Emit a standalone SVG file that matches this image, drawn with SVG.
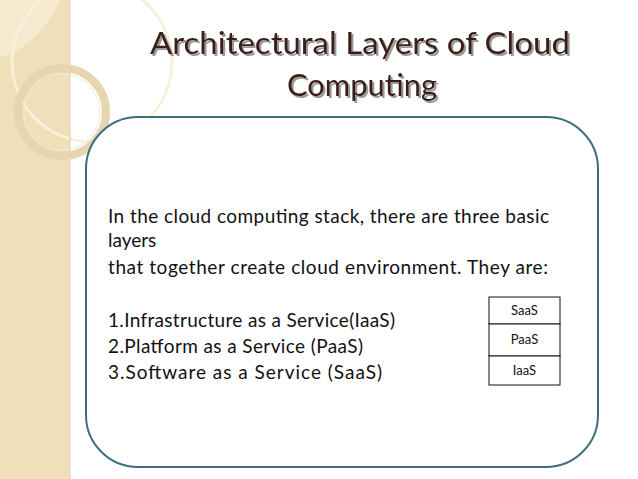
<svg xmlns="http://www.w3.org/2000/svg" width="638" height="479" viewBox="0 0 638 479">
<defs><style>
.t{font-family:"Lato","Liberation Sans",sans-serif;font-size:31px;fill:#3a1e12;text-anchor:middle;filter:url(#ds)}
.b{font-family:"Lato","Liberation Sans",sans-serif;font-size:19px;fill:#111}
.s{font-family:"Lato","Liberation Sans",sans-serif;font-size:13px;fill:#111;text-anchor:middle}
</style>
<filter id="ds" x="-5%" y="-30%" width="110%" height="160%"><feDropShadow dx="2" dy="2" stdDeviation="0.4" flood-color="#999"/></filter>
</defs>
<rect width="638" height="479" fill="#fff"/>
<g id="strip">
<rect x="0" y="0" width="70" height="479" fill="#efe0b9"/>
<path d="M0 58 L0 0 L60 0 Q40 45 0 58Z" fill="#f5ead0"/>
<circle cx="92" cy="62" r="80" fill="none" stroke="#f7f0dc" stroke-width="3"/>
<circle cx="62" cy="112" r="44" fill="none" stroke="#e6d5ae" stroke-width="8"/>
<circle cx="62" cy="112" r="38" fill="none" stroke="#f4ead0" stroke-width="1"/>
<line x1="70" y1="0" x2="70" y2="479" stroke="#e2d3b0"/>
</g>
<g id="title">
<text class="t" x="360" y="54" textLength="420" lengthAdjust="spacingAndGlyphs">Architectural Layers of Cloud</text>
<text class="t" x="362" y="96" textLength="150" lengthAdjust="spacingAndGlyphs">Computing</text>
</g>
<g id="panel">
<rect x="86" y="117" width="512" height="350" rx="52" fill="#fff" stroke="#3e6e7e" stroke-width="2"/>
<text class="b" x="108" y="223" textLength="441">In the cloud computing stack, there are three basic</text>
<text class="b" x="108" y="247">layers</text>
<text class="b" x="108" y="274" textLength="440">that together create cloud environment. They are:</text>
<text class="b" x="108" y="327" textLength="287">1.Infrastructure as a Service(IaaS)</text>
<text class="b" x="108" y="353" textLength="255">2.Platform as a Service (PaaS)</text>
<text class="b" x="108" y="379" textLength="274">3.Software as a  Service (SaaS)</text>
</g>
<g id="stack" fill="#fff" stroke="#111" stroke-width="1">
<rect x="489" y="297" width="71" height="27"/>
<rect x="489" y="324" width="71" height="32"/>
<rect x="489" y="356" width="71" height="29"/>
</g>
<g id="stacklabels">
<text class="s" x="524.5" y="315">SaaS</text>
<text class="s" x="524.5" y="344">PaaS</text>
<text class="s" x="524.5" y="375">IaaS</text>
</g>
</svg>
